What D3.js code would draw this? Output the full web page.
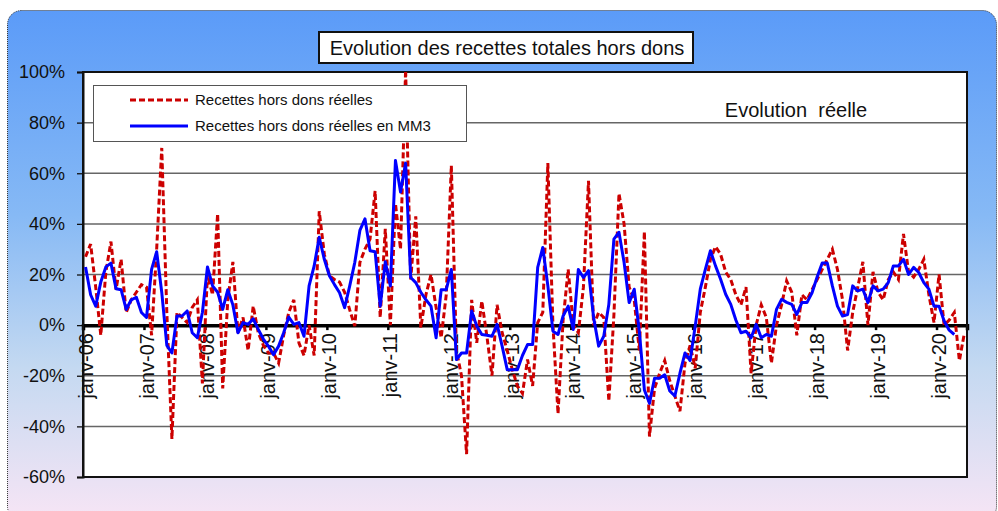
<!DOCTYPE html>
<html>
<head>
<meta charset="utf-8">
<script src="https://cdn.jsdelivr.net/npm/d3@7/dist/d3.min.js"></script>
<style>
  body { margin: 0; background: #fff; }
  text { font-family: Arial, "Liberation Sans", sans-serif; fill: #111; }
</style>
</head>
<body>
<div id="chart"></div>
<script>
// janv-06 .. juin-20, one value per month (%)
const yearLabels = ["janv-06", "janv-07", "janv-08", "janv-09", "janv-10", "janv-11", "janv-12",
    "janv-13", "janv-14", "janv-15", "janv-16", "janv-17", "janv-18", "janv-19", "janv-20"];
const yTicks = [-60, -40, -20, 0, 20, 40, 60, 80, 100];

const reelles = [
    27, 32, 15, -4, 21, 33, 14, 26, 5, 10, 13, 16,          // 2006
    15, -4, 30, 70, 5, -45, 5, 3, 1, 7, 10, -23,            // 2007
    20, 12, 44, -25, 10, 25, -3, 3, -10, 7.5, -3, -8,       // 2008
    -11, -11, -15, -4, 5, 10, -7, -12, 0, -12, 45, 28,      // 2009
    19.5, 18, 17, 13, 6, -0.4, 24.8, 30, 34, 53, 3, 38,     // 2010
    0, 48, 30, 101, 18, 43, -1, 12, 20, 7, -5, 12,          // 2011
    63, -10, -20, -51, 10, -7, 9.5, -4.4, -20, 8, -3, -10,  // 2012
    -17.6, -24, -27, -13.6, -24, 1, 5, 64, 0, -35, 2, 22,   // 2013
    0, -3, 15, 57, 0, 5, 3, -30, 4, 52, 40, 15,             // 2014
    10, -10, 37, -44, -25, -19, -14, -22, -28, -34, -15, -8, // 2015
    -17, 5, 15, 26, 31, 28, 21, 18, 12, 8, 15, -19,         // 2016
    0, 8, 3, -15, 0, 8, 17.5, 13, -4, 12, 10, 14,           // 2017
    18, 22, 26, 30, 22, 10, -10, 5, 15, 25, 0, 21,          // 2018
    13, 10, 18, 21, 18, 36, 21, 19, 22, 26, 12, 1,          // 2019
    20, 0, 2, 5, -14, -3                                    // 2020
];

const reellesMM3 = [
    23, 12, 7.5, 17, 23, 24.5, 14.4, 14, 6.2, 10, 11, 5,
    3, 22, 29, 13, -8, -11, 3.6, 3.6, 5.6, -3, -5, 5,
    23, 15.5, 13, 6.2, 14, 8, -3, 1, 0.3, 2.5, -1.7, -5.5,
    -8.3, -11.7, -8.3, -3, 3.2, 0.3, 1, -4.4, 15.5, 23.4, 34.7, 26,
    19.5, 16, 12.8, 6.9, 15.5, 24.8, 37.4, 42, 29.4, 29, 7.5, 25,
    15.5, 65, 52.6, 64, 18.8, 16.8, 13, 10, 7.5, -5, 14, 14,
    22, -13.6, -11, -11, 5.6, -0.4, -3.7, -4, -4.4, 0.3, -8.3, -17.6,
    -17.6, -17.6, -12, -7.7, -7.7, 22.8, 30.7, 15.5, -2.4, -3.7, 3.6, 7.5,
    -1.7, 22, 18.8, 21.5, 3, -8.3, -4.4, 8.2, 34, 36.7, 24.8, 8.9,
    14.2, -2.4, -25.6, -30.9, -21, -21, -19.6, -26, -28, -19, -11, -14,
    -0.4, 14.2, 22, 29.4, 23.4, 18.1, 12.2, 8.2, 2, -3, -2.4, -5,
    0.3, -5, -3.7, -4.4, 6.2, 10.2, 9, 8.2, 4.2, 8.9, 8.9, 12.8,
    19, 24.5, 24.5, 15.5, 7.5, 3.6, 4.2, 15.5, 13.5, 14.2, 8.9, 15.5,
    13.5, 14.2, 16.8, 23.4, 23.4, 26, 20, 22.8, 20.8, 16.8, 14.2, 7.5,
    7.5, 1.6, -2, -3.7
];

const width = 998, height = 511;
const plot = { left: 83, top: 72, right: 967, bottom: 477 };

const svg = d3.select("#chart").append("svg")
    .attr("width", width)
    .attr("height", height);

// background gradient
const defs = svg.append("defs");
const grad = defs.append("linearGradient")
    .attr("id", "bg")
    .attr("x1", 0).attr("y1", 0).attr("x2", 0).attr("y2", 1);
grad.append("stop").attr("offset", "0%").attr("stop-color", "#5b9bf8");
grad.append("stop").attr("offset", "40%").attr("stop-color", "#86b9f5");
grad.append("stop").attr("offset", "70%").attr("stop-color", "#c4d9f1");
grad.append("stop").attr("offset", "100%").attr("stop-color", "#f7e5f5");

defs.append("clipPath").attr("id", "clip")
    .append("rect")
    .attr("x", plot.left).attr("y", plot.top)
    .attr("width", plot.right - plot.left)
    .attr("height", plot.bottom - plot.top);

svg.append("rect")
    .attr("x", 7.5).attr("y", 10.5)
    .attr("width", 989).attr("height", 510)
    .attr("rx", 14)
    .attr("fill", "url(#bg)")
    .attr("stroke", "#333")
    .attr("stroke-dasharray", "1,1");

// scales
const x = d3.scaleBand()
    .domain(d3.range(reelles.length))
    .range([plot.left, plot.right]);
const xb = d3.scaleLinear()
    .domain([0, reelles.length])
    .range([plot.left, plot.right]);
const y = d3.scaleLinear()
    .domain([-60, 100])
    .range([plot.bottom, plot.top]);
const cx = i => x(i) + x.bandwidth() / 2;

svg.append("rect")
    .attr("x", plot.left).attr("y", plot.top)
    .attr("width", plot.right - plot.left)
    .attr("height", plot.bottom - plot.top)
    .attr("fill", "#fff");

// gridlines
svg.append("g")
    .selectAll("line")
    .data(yTicks.filter(d => d !== 0 && d !== -60 && d !== 100))
    .join("line")
    .attr("x1", plot.left).attr("x2", plot.right)
    .attr("y1", d => y(d)).attr("y2", d => y(d))
    .attr("stroke", "#666")
    .attr("stroke-width", 1.5);

// y axis
const yAxis = svg.append("g")
    .attr("transform", `translate(${plot.left},0)`)
    .call(d3.axisLeft(y).tickValues(yTicks).tickSize(6).tickPadding(12).tickFormat(d => d + "%"));
yAxis.select(".domain").attr("stroke", "#111").attr("stroke-width", 2);
yAxis.selectAll(".tick line").attr("stroke", "#111").attr("stroke-width", 1.3);
yAxis.selectAll(".tick text").attr("font-size", 18).attr("fill", "#111");

// x labels (rotated), centred on the January category
svg.append("g")
    .selectAll("text")
    .data(yearLabels)
    .join("text")
    .attr("transform", (d, k) => `translate(${cx(k * 12)},333) rotate(-90)`)
    .attr("dy", "0.35em")
    .attr("text-anchor", "end")
    .attr("font-size", 20)
    .text(d => d);

// zero line with ticks on January boundaries
const xAxis = svg.append("g")
    .attr("transform", `translate(0,${y(0)})`)
    .call(d3.axisBottom(xb).tickValues(d3.range(0, reelles.length, 12)).tickSize(5).tickFormat(""));
xAxis.select(".domain").attr("stroke", "#000").attr("stroke-width", 3.5);
xAxis.selectAll(".tick line").attr("stroke", "#000").attr("stroke-width", 2.5);

// plot frame
svg.append("rect")
    .attr("x", plot.left).attr("y", plot.top)
    .attr("width", plot.right - plot.left)
    .attr("height", plot.bottom - plot.top)
    .attr("fill", "none")
    .attr("stroke", "#111")
    .attr("stroke-width", 2);

// series
const line = d3.line().x((d, i) => cx(i)).y(d => y(d));
const lines = svg.append("g").attr("clip-path", "url(#clip)");
lines.append("path")
    .datum(reelles)
    .attr("d", line)
    .attr("fill", "none")
    .attr("stroke", "#cc0000")
    .attr("stroke-width", 3)
    .attr("stroke-dasharray", "6,3");
lines.append("path")
    .datum(reellesMM3)
    .attr("d", line)
    .attr("fill", "none")
    .attr("stroke", "#0000ff")
    .attr("stroke-width", 3)
    .attr("stroke-linejoin", "round");

// title
svg.append("rect")
    .attr("x", 319).attr("y", 32)
    .attr("width", 374).attr("height", 31)
    .attr("fill", "#fff")
    .attr("stroke", "#111")
    .attr("stroke-width", 2);
svg.append("text")
    .attr("x", 507).attr("y", 55)
    .attr("text-anchor", "middle")
    .attr("font-size", 20)
    .text("Evolution des recettes totales hors dons");

svg.append("text")
    .attr("x", 796).attr("y", 117)
    .attr("text-anchor", "middle")
    .attr("font-size", 20)
    .style("white-space", "pre")
    .text("Evolution  réelle");

// legend
const legend = svg.append("g");
legend.append("rect")
    .attr("x", 93.5).attr("y", 85.5)
    .attr("width", 373).attr("height", 56)
    .attr("fill", "#fff")
    .attr("stroke", "#555")
    .attr("stroke-width", 1);
const legendItems = [
    { label: "Recettes hors dons réelles", color: "#cc0000", dash: "6,3", y: 100 },
    { label: "Recettes hors dons réelles en MM3", color: "#0000ff", dash: null, y: 126 }
];
legendItems.forEach(it => {
    legend.append("line")
        .attr("x1", 130).attr("x2", 188)
        .attr("y1", it.y).attr("y2", it.y)
        .attr("stroke", it.color)
        .attr("stroke-width", 3)
        .attr("stroke-dasharray", it.dash);
    legend.append("text")
        .attr("x", 195).attr("y", it.y + 5)
        .attr("font-size", 15)
        .text(it.label);
});
</script>
</body>
</html>
